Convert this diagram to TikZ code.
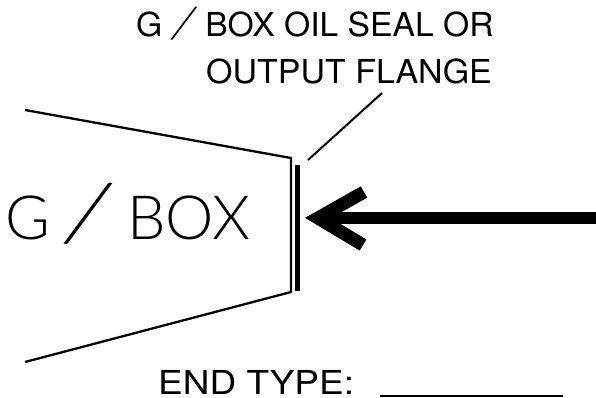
\documentclass[tikz,border=0pt]{standalone}
\usepackage{fontspec}
\setmainfont{TeX Gyre Heros}
\newfontfamily\slf{Lato Light}
\newcommand{\sls}{\makebox[0.72em][c]{\raisebox{-0.1em}{\rotatebox[origin=c]{-14}{\scalebox{1.5}{\slf /}}}}}
\tikzset{lbl/.style={inner sep=0pt,anchor=base west,text=black},
 wedge/.style={line width=2.3pt,black,line join=miter},
 seal/.style={line width=5pt,black},
 leader/.style={line width=2pt,black},
 rulefill/.style={line width=2.3pt,black},
 heavy/.style={line width=12pt,black,line join=miter}}
\begin{document}
\begin{tikzpicture}[x=1pt,y=-1pt]
\useasboundingbox (0,0) rectangle (596,398);
\draw[wedge] (25,110) -- (291,158) -- (291,292) -- (25,362);
\draw[seal] (297,165) -- (297,290.5);
\coordinate (ls) at (308,160);
\coordinate (le) at (382,93);
\draw[leader] (ls) -- (le);
\coordinate (tip) at (318,218);
\coordinate (tail) at (596,218);
\draw[heavy] (tail) -- (tip);
\draw[heavy,line width=13pt] (364,192) -- (tip) -- (363,245);
\node[lbl,font=\fontsize{33}{33}\selectfont] (t1) at (136,37) {\scalebox{1.02}[1]{G \sls{} BOX OIL SEAL OR}};
\node[lbl,font=\fontsize{33}{33}\selectfont] (t2) at (206,84) {\scalebox{1.03}[1]{OUTPUT FLANGE}};
\node[lbl,font=\fontsize{61}{61}\selectfont\slf] (t3) at (5,239) {G \sls{} BOX};
\node[lbl,font=\fontsize{33}{33}\selectfont] (t4) at (158,394.5) {\scalebox{1.12}[1]{END TYPE:}};
\coordinate (u1) at (380,396);
\coordinate (u2) at (563,396);
\draw[rulefill] (u1) -- (u2);
\end{tikzpicture}
\end{document}
